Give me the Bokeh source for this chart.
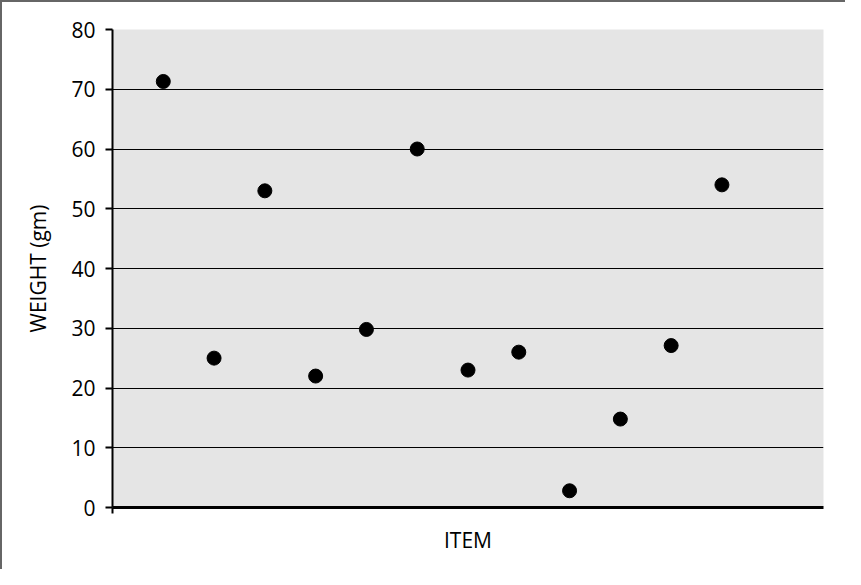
from bokeh.plotting import figure
from bokeh.embed import file_html
from bokeh.resources import INLINE
from bokeh.models import FixedTicker, Range1d

items = [1, 2, 3, 4, 5, 6, 7, 8, 9, 10, 11, 12]
weights = [71.3, 25.0, 53.0, 22.0, 29.8, 60.0, 23.0, 26.0, 2.8, 14.8, 27.1, 54.0]
y_ticks = [0, 10, 20, 30, 40, 50, 60, 70, 80]

FONT = "Open Sans"

p = figure(width=845, height=569, output_backend="svg", toolbar_location=None,
           x_range=Range1d(0, 14), y_range=Range1d(0, 80),
           min_border_left=110, min_border_right=24, min_border_top=27, min_border_bottom=64,
           styles={"border-left": "2px solid #666666", "border-top": "2px solid #666666"})

p.background_fill_color = "#e5e5e5"
p.border_fill_color = "white"
p.outline_line_color = None

p.scatter(items, weights, size=14, color="black")

p.xgrid.visible = False
p.ygrid.ticker = FixedTicker(ticks=y_ticks)
p.ygrid.grid_line_color = "black"
p.ygrid.grid_line_width = 1

ya = p.yaxis[0]
ya.ticker = FixedTicker(ticks=y_ticks)
ya.axis_line_color = "black"
ya.axis_line_width = 2
ya.major_tick_line_width = 2
ya.major_tick_in = 0
ya.major_tick_out = 7
ya.minor_tick_line_color = None
ya.major_label_text_font = FONT
ya.major_label_text_font_size = "21px"
ya.major_label_text_color = "black"
ya.major_label_standoff = 10
ya.axis_label = "WEIGHT (gm)"
ya.axis_label_text_font = FONT
ya.axis_label_text_font_size = "21px"
ya.axis_label_text_font_style = "normal"
ya.axis_label_text_color = "black"
ya.axis_label_standoff = 16

xa = p.xaxis[0]
xa.ticker = FixedTicker(ticks=[0])
xa.major_label_overrides = {0: ""}
xa.axis_line_color = "black"
xa.axis_line_width = 3
xa.major_tick_line_width = 2
xa.major_tick_in = 0
xa.major_tick_out = 6
xa.minor_tick_line_color = None
xa.major_label_text_font_size = "1px"
xa.axis_label = "ITEM"
xa.axis_label_text_font = FONT
xa.axis_label_text_font_size = "21px"
xa.axis_label_text_font_style = "normal"
xa.axis_label_text_color = "black"
xa.axis_label_standoff = 12

open("out.html", "w").write(file_html(p, INLINE))
